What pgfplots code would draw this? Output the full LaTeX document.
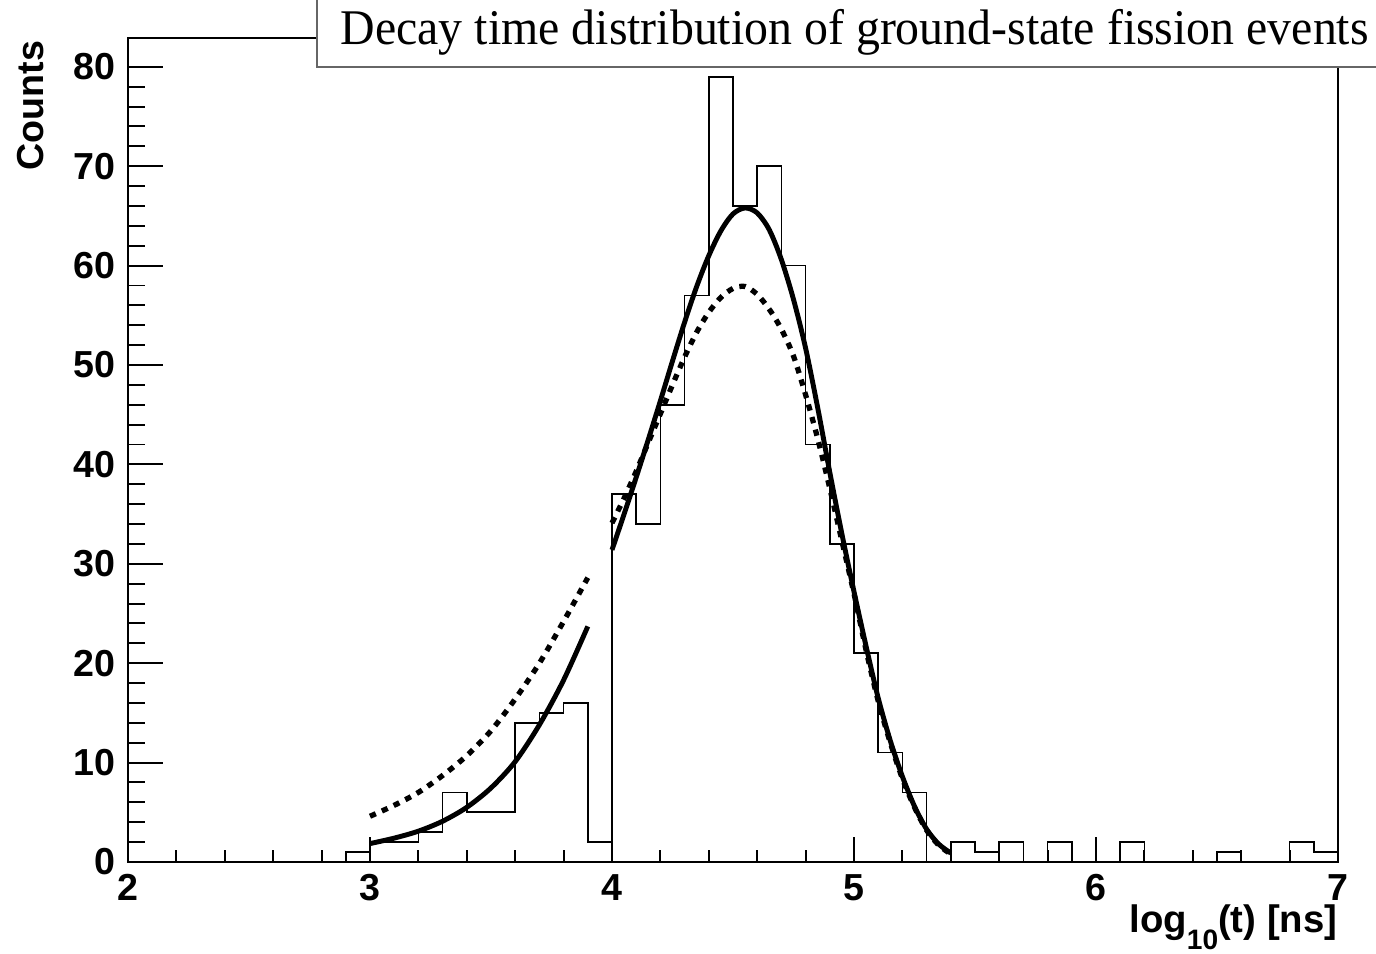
\documentclass[border=0pt]{standalone}
\usepackage{fontspec}
\setmainfont{Liberation Sans}
\setsansfont{Liberation Sans}
\newfontfamily\titlefont{Liberation Serif}
\usepackage{graphicx}
\usepackage{pgfplots}
\pgfplotsset{compat=1.18}
\pgfplotsset{
  common/.style={
    at={(0,0)}, anchor=south west,
    scale only axis, width=12.10cm, height=8.24cm,
    xmin=2, xmax=7, ymin=0, ymax=82.9,
    tick pos=left, tick align=inside,
    axis line style={line width=0.6pt},
    every tick/.style={black, line width=0.55pt},
    tick label style={font=\bfseries\fontsize{10.7}{12}\selectfont},
    /pgf/number format/assume math mode=true,
  }
}
\begin{document}
\begin{tikzpicture}
\useasboundingbox (-1.28,-0.92) rectangle (12.48,8.62);
% axis carrying the data and the x ticks
\begin{axis}[common,
  xtick={2,3,4,5,6,7}, ytick=\empty,
  minor x tick num=4,
  major tick length=0.25cm, minor tick length=0.12cm,
  xlabel={log\raisebox{-5.0pt}{\fontsize{8}{8}\selectfont 10}(t) [ns]},
  xlabel style={at={(axis description cs:1,-0.0855)}, anchor=base east, inner sep=0pt, font=\bfseries\fontsize{10.9}{12}\selectfont},
]
% histogram (bin width 0.1)
\addplot[const plot, black, line width=0.45pt] coordinates {
(2.0,0) (2.8,0) (2.9,1) (3.0,2) (3.1,2) (3.2,3) (3.3,7) (3.4,5) (3.5,5)
(3.6,14) (3.7,15) (3.8,16) (3.9,2) (4.0,37) (4.1,34) (4.2,46) (4.3,57)
(4.4,79) (4.5,66) (4.6,70) (4.7,60) (4.8,42) (4.9,32) (5.0,21) (5.1,11)
(5.2,7) (5.3,0) (5.4,2) (5.5,1) (5.6,2) (5.7,0) (5.8,2) (5.9,0) (6.0,0)
(6.1,2) (6.2,0) (6.3,0) (6.4,0) (6.5,1) (6.6,0) (6.7,0) (6.8,2) (6.9,1) (7.0,1)
};
% solid fit, low part
\addplot[smooth, black, line width=1.4pt] coordinates {
(3.00,1.85) (3.10,2.4) (3.20,3.1) (3.30,4.1) (3.40,5.5) (3.50,7.45)
(3.60,10.1) (3.70,13.8) (3.80,18.3) (3.90,23.7)
};
% solid fit, main part
\addplot[smooth, black, line width=1.4pt] coordinates {
(4.00,31.4) (4.05,35.0) (4.10,38.7) (4.15,42.5) (4.20,46.4) (4.25,50.4)
(4.30,54.3) (4.35,57.9) (4.40,61.0) (4.45,63.5) (4.50,65.2) (4.55,65.8)
(4.60,65.3) (4.65,63.6) (4.70,60.6) (4.75,56.6) (4.80,51.7) (4.85,45.7)
(4.90,39.2) (4.95,33.0) (5.00,27.2) (5.05,21.7) (5.10,16.5) (5.15,12.2)
(5.20,8.6) (5.25,5.6) (5.30,3.3) (5.35,1.8) (5.40,0.9)
};
% dotted fit, low part
\addplot[smooth, black, line width=1.5pt, dash pattern=on 1.8pt off 1.9pt] coordinates {
(3.00,4.6) (3.10,5.7) (3.20,7.0) (3.30,8.7) (3.40,10.7) (3.50,13.2)
(3.60,16.4) (3.70,20.0) (3.80,24.2) (3.90,28.6)
};
% dotted fit, main part
\addplot[smooth, black, line width=1.5pt, dash pattern=on 1.8pt off 1.9pt] coordinates {
(4.00,34.1) (4.05,36.6) (4.10,39.3) (4.15,42.2) (4.20,45.1) (4.25,48.0)
(4.30,50.8) (4.35,53.3) (4.40,55.3) (4.45,56.8) (4.50,57.7) (4.55,57.9)
(4.60,57.1) (4.65,55.6) (4.70,53.6) (4.75,50.9) (4.80,47.0) (4.85,42.6)
(4.90,37.6) (4.95,32.3) (5.00,27.0) (5.05,21.3) (5.10,16.2) (5.15,12.0)
(5.20,8.4) (5.25,5.5) (5.30,3.2) (5.35,1.7) (5.40,0.8)
};
\end{axis}
% axis carrying the y ticks
\begin{axis}[common,
  xtick=\empty, ytick={0,10,20,30,40,50,60,70,80},
  minor y tick num=4,
  major tick length=0.35cm, minor tick length=0.17cm,
  ylabel={Counts},
  ylabel style={at={(axis description cs:-0.0702,0.9976)}, anchor=base east, inner sep=0pt, font=\bfseries\fontsize{10.7}{12}\selectfont},
]
\end{axis}
% title box
\draw[black!60, line width=0.6pt, fill=white] (1.89,7.95) rectangle (12.9,8.9);
\node[anchor=base west, inner sep=0pt] at (2.12,8.17)
  {\resizebox{10.28cm}{\height}{\titlefont\fontsize{14.2}{16}\selectfont Decay time distribution of ground-state fission events}};
\end{tikzpicture}
\end{document}
